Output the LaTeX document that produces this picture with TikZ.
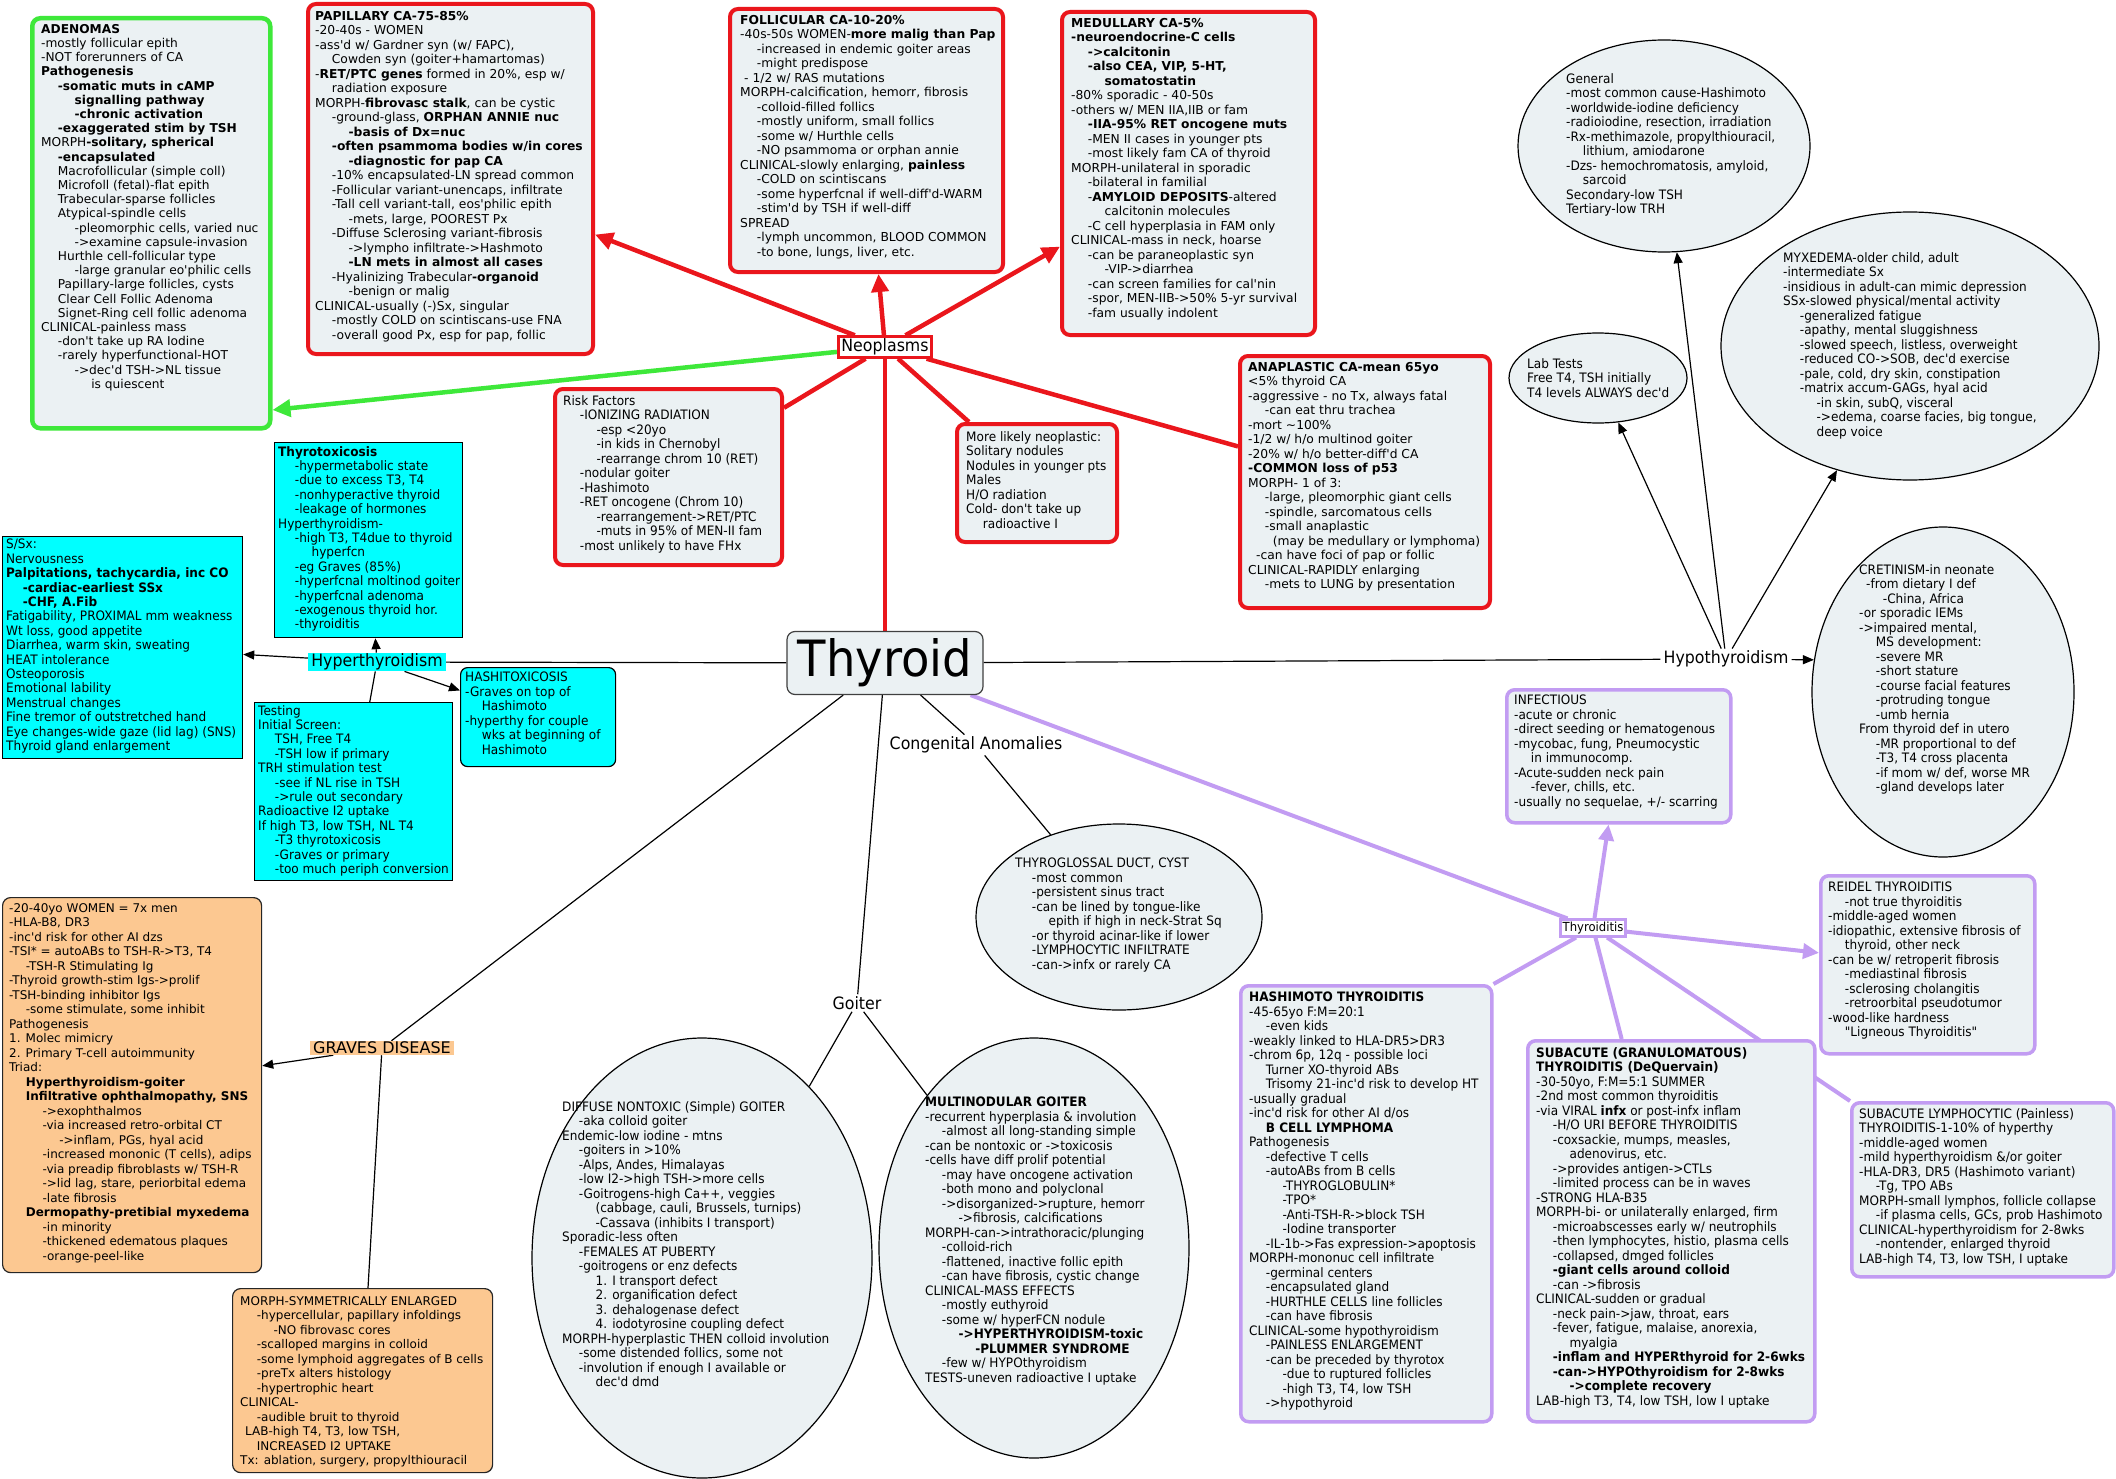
\documentclass[tikz,border=0pt]{standalone}
\usepackage{fontspec}
\usetikzlibrary{arrows.meta,shapes.geometric,backgrounds}
\newfontfamily\vfam{DejaVu Sans}
\newfontfamily\tfam{DejaVu Sans}[FakeStretch=0.93]
\newcommand{\VF}{\vfam\fontsize{12.3}{14.5}\selectfont}
\newcommand{\TF}{\tfam\fontsize{13}{14.5}\selectfont}
\newcommand{\myin}{\hspace*{16.7pt}}
\definecolor{boxfill}{RGB}{235,241,243}
\definecolor{redc}{RGB}{234,22,28}
\definecolor{greenc}{RGB}{62,232,58}
\definecolor{purc}{RGB}{194,156,242}
\definecolor{cyanc}{RGB}{0,255,255}
\definecolor{peach}{RGB}{252,200,145}
\tikzset{
  redbox/.style={draw=redc, line width=4pt, rounded corners=8pt, fill=boxfill, inner sep=0pt, anchor=north west},
  greenbox/.style={draw=greenc, line width=4.5pt, rounded corners=8pt, fill=boxfill, inner sep=0pt, anchor=north west},
  purbox/.style={draw=purc, line width=3.5pt, rounded corners=8pt, fill=boxfill, inner sep=0pt, anchor=north west},
  cyanbox/.style={draw=black, line width=1.2pt, fill=cyanc, inner sep=0pt, anchor=north west},
  peachbox/.style={draw=black!85, line width=1.2pt, rounded corners=8pt, fill=peach, inner sep=0pt, anchor=north west},
  ell/.style={ellipse, draw=black, line width=1.2pt, fill=boxfill, inner sep=0pt},
  vt/.style={font=\VF, align=left, inner sep=0pt, anchor=north west},
  tt/.style={font=\TF, align=left, inner sep=0pt, anchor=north west},
  biglabel/.style={font=\tfam\fontsize{17}{17}\selectfont, inner xsep=3pt, inner ysep=2pt},
  redl/.style={draw=redc, line width=4.5pt},
  redarr/.style={redl, -{Triangle[length=18pt,width=17pt]}},
  greenarr/.style={draw=greenc, line width=4.5pt, -{Triangle[length=18pt,width=17pt]}},
  purl/.style={draw=purc, line width=4pt},
  purarr/.style={purl, -{Triangle[length=16pt,width=15pt]}},
  blk/.style={draw=black, line width=1.2pt},
  blkarr/.style={blk, -{Triangle[length=11pt,width=9pt]}}
}
\begin{document}
\begin{tikzpicture}[x=1pt,y=-1pt]
\useasboundingbox (0,0) rectangle (2116,1479);

% ---------- central and branch labels ----------
\node[draw=black!75, line width=1.2pt, rounded corners=8pt, fill=boxfill, minimum width=196pt, minimum height=63pt, inner sep=0pt, font=\tfam\fontsize{50}{50}\selectfont] (thyroid) at (885,663) {Thyroid};
\node[biglabel, draw=redc, line width=3pt, fill=white] (neo) at (885,347) {Neoplasms};
\node[biglabel, fill=cyanc, inner ysep=1pt] (hyper) at (377,662) {Hyperthyroidism};
\node[biglabel] (hypo) at (1726,659) {Hypothyroidism};
\node[biglabel] (cong) at (976,745) {Congenital Anomalies};
\node[biglabel] (goiter) at (857,1003) {Goiter};
\node[font=\vfam\fontsize{16}{16}\selectfont, fill=peach, inner xsep=3pt, inner ysep=1pt] (graves) at (382,1048) {GRAVES DISEASE};
\node[font=\tfam\fontsize{12.5}{12.5}\selectfont, draw=purc, line width=3pt, fill=white, inner sep=2pt] (thyroiditis) at (1593,928) {Thyroiditis};

% ---------- neoplasm boxes ----------
\node[greenbox, minimum width=238pt, minimum height=410pt] (aden) at (30,16) {};
\node[vt, font=\vfam\fontsize{12.2}{14.2}\selectfont] (adentext) at (41,24) {\textbf{ADENOMAS}\\
-mostly follicular epith\\
-NOT forerunners of CA\\
\textbf{Pathogenesis}\\
\myin\textbf{-somatic muts in cAMP}\\
\myin\myin\textbf{signalling pathway}\\
\myin\myin\textbf{-chronic activation}\\
\myin\textbf{-exaggerated stim by TSH}\\
MORPH\textbf{-solitary, spherical}\\
\myin\textbf{-encapsulated}\\
\myin Macrofollicular (simple coll)\\
\myin Microfoll (fetal)-flat epith\\
\myin Trabecular-sparse follicles\\
\myin Atypical-spindle cells\\
\myin\myin -pleomorphic cells, varied nuc\\
\myin\myin ->examine capsule-invasion\\
\myin Hurthle cell-follicular type\\
\myin\myin -large granular eo'philic cells\\
\myin Papillary-large follicles, cysts\\
\myin Clear Cell Follic Adenoma\\
\myin Signet-Ring cell follic adenoma\\
CLINICAL-painless mass\\
\myin -don't take up RA Iodine\\
\myin -rarely hyperfunctional-HOT\\
\myin\myin ->dec'd TSH->NL tissue\\
\myin\myin\myin is quiescent};

\node[redbox, minimum width=285pt, minimum height=350pt] (pap) at (306,2) {};
\node[vt] (paptext) at (315,11) {\textbf{PAPILLARY CA-75-85\%}\\
-20-40s - WOMEN\\
-ass'd w/ Gardner syn (w/ FAPC),\\
\myin Cowden syn (goiter+hamartomas)\\
-\textbf{RET/PTC genes} formed in 20\%, esp w/\\
\myin radiation exposure\\
MORPH-\textbf{fibrovasc stalk}, can be cystic\\
\myin -ground-glass, \textbf{ORPHAN ANNIE nuc}\\
\myin\myin\textbf{-basis of Dx=nuc}\\
\myin\textbf{-often psammoma bodies w/in cores}\\
\myin\myin\textbf{-diagnostic for pap CA}\\
\myin -10\% encapsulated-LN spread common\\
\myin -Follicular variant-unencaps, infiltrate\\
\myin -Tall cell variant-tall, eos'philic epith\\
\myin\myin -mets, large, POOREST Px\\
\myin -Diffuse Sclerosing variant-fibrosis\\
\myin\myin ->lympho infiltrate->Hashmoto\\
\myin\myin\textbf{-LN mets in almost all cases}\\
\myin -Hyalinizing Trabecular\textbf{-organoid}\\
\myin\myin -benign or malig\\
CLINICAL-usually (-)Sx, singular\\
\myin -mostly COLD on scintiscans-use FNA\\
\myin -overall good Px, esp for pap, follic};

\node[redbox, minimum width=273pt, minimum height=263pt] (fol) at (728,7) {};
\node[vt] (foltext) at (740,15) {\textbf{FOLLICULAR CA-10-20\%}\\
-40s-50s WOMEN-\textbf{more malig than Pap}\\
\myin -increased in endemic goiter areas\\
\myin -might predispose\\
\hspace*{4pt}- 1/2 w/ RAS mutations\\
MORPH-calcification, hemorr, fibrosis\\
\myin -colloid-filled follics\\
\myin -mostly uniform, small follics\\
\myin -some w/ Hurthle cells\\
\myin -NO psammoma or orphan annie\\
CLINICAL-slowly enlarging, \textbf{painless}\\
\myin -COLD on scintiscans\\
\myin -some hyperfcnal if well-diff'd-WARM\\
\myin -stim'd by TSH if well-diff\\
SPREAD\\
\myin -lymph uncommon, BLOOD COMMON\\
\myin -to bone, lungs, liver, etc.};

\node[redbox, minimum width=253pt, minimum height=323pt] (med) at (1060,10) {};
\node[vt] (medtext) at (1071,18) {\textbf{MEDULLARY CA-5\%}\\
\textbf{-neuroendocrine-C cells}\\
\myin\textbf{->calcitonin}\\
\myin\textbf{-also CEA, VIP, 5-HT,}\\
\myin\myin\textbf{somatostatin}\\
-80\% sporadic - 40-50s\\
-others w/ MEN IIA,IIB or fam\\
\myin\textbf{-IIA-95\% RET oncogene muts}\\
\myin -MEN II cases in younger pts\\
\myin -most likely fam CA of thyroid\\
MORPH-unilateral in sporadic\\
\myin -bilateral in familial\\
\myin -\textbf{AMYLOID DEPOSITS}-altered\\
\myin\myin calcitonin molecules\\
\myin -C cell hyperplasia in FAM only\\
CLINICAL-mass in neck, hoarse\\
\myin -can be paraneoplastic syn\\
\myin\myin -VIP->diarrhea\\
\myin -can screen families for cal'nin\\
\myin -spor, MEN-IIB->50\% 5-yr survival\\
\myin -fam usually indolent};

\node[redbox, minimum width=227pt, minimum height=176pt] (risk) at (553,387) {};
\node[tt] (risktext) at (563,395) {Risk Factors\\
\myin -IONIZING RADIATION\\
\myin\myin -esp <20yo\\
\myin\myin -in kids in Chernobyl\\
\myin\myin -rearrange chrom 10 (RET)\\
\myin -nodular goiter\\
\myin -Hashimoto\\
\myin -RET oncogene (Chrom 10)\\
\myin\myin -rearrangement->RET/PTC\\
\myin\myin -muts in 95\% of MEN-II fam\\
\myin -most unlikely to have FHx};

\node[redbox, minimum width=160pt, minimum height=118pt] (likely) at (955,422) {};
\node[tt] (likelytext) at (966,431) {More likely neoplastic:\\
Solitary nodules\\
Nodules in younger pts\\
Males\\
H/O radiation\\
Cold- don't take up\\
\myin radioactive I};

\node[redbox, minimum width=250pt, minimum height=252pt] (ana) at (1238,354) {};
\node[vt] (anatext) at (1248,362) {\textbf{ANAPLASTIC CA-mean 65yo}\\
<5\% thyroid CA\\
-aggressive - no Tx, always fatal\\
\myin -can eat thru trachea\\
-mort \textasciitilde 100\%\\
-1/2 w/ h/o multinod goiter\\
-20\% w/ h/o better-diff'd CA\\
\textbf{-COMMON loss of p53}\\
MORPH- 1 of 3:\\
\myin -large, pleomorphic giant cells\\
\myin -spindle, sarcomatous cells\\
\myin -small anaplastic\\
\myin\hspace*{8pt}(may be medullary or lymphoma)\\
\hspace*{8pt}-can have foci of pap or follic\\
CLINICAL-RAPIDLY enlarging\\
\myin -mets to LUNG by presentation};

% ---------- hyperthyroidism boxes ----------
\node[cyanbox, minimum width=188pt, minimum height=195pt] (toxic) at (274,442) {};
\node[tt, font=\tfam\fontsize{13}{14.4}\selectfont] (toxictext) at (278,446) {\textbf{Thyrotoxicosis}\\
\myin -hypermetabolic state\\
\myin -due to excess T3, T4\\
\myin -nonhyperactive thyroid\\
\myin -leakage of hormones\\
Hyperthyroidism-\\
\myin -high T3, T4due to thyroid\\
\myin\myin hyperfcn\\
\myin -eg Graves (85\%)\\
\myin -hyperfcnal moltinod goiter\\
\myin -hyperfcnal adenoma\\
\myin -exogenous thyroid hor.\\
\myin -thyroiditis};

\node[cyanbox, minimum width=240pt, minimum height=222pt] (ssx) at (2,536) {};
\node[tt, font=\tfam\fontsize{13}{14.4}\selectfont] (ssxtext) at (6,539) {S/Sx:\\
Nervousness\\
\textbf{Palpitations, tachycardia, inc CO}\\
\myin\textbf{-cardiac-earliest SSx}\\
\myin\textbf{-CHF, A.Fib}\\
Fatigability, PROXIMAL mm weakness\\
Wt loss, good appetite\\
Diarrhea, warm skin, sweating\\
HEAT intolerance\\
Osteoporosis\\
Emotional lability\\
Menstrual changes\\
Fine tremor of outstretched hand\\
Eye changes-wide gaze (lid lag) (SNS)\\
Thyroid gland enlargement};

\node[cyanbox, minimum width=198pt, minimum height=178pt] (test) at (254,702) {};
\node[tt, font=\tfam\fontsize{13}{14.4}\selectfont] (testtext) at (258,705) {Testing\\
Initial Screen:\\
\myin TSH, Free T4\\
\myin -TSH low if primary\\
TRH stimulation test\\
\myin -see if NL rise in TSH\\
\myin ->rule out secondary\\
Radioactive I2 uptake\\
If high T3, low TSH, NL T4\\
\myin -T3 thyrotoxicosis\\
\myin -Graves or primary\\
\myin -too much periph conversion};

\node[cyanbox, rounded corners=7pt, minimum width=155pt, minimum height=99pt] (hashitox) at (460,667) {};
\node[tt] (hashitoxtext) at (465,672) {HASHITOXICOSIS\\
-Graves on top of\\
\myin Hashimoto\\
-hyperthy for couple\\
\myin wks at beginning of\\
\myin Hashimoto};

% ---------- Graves boxes ----------
\node[peachbox, minimum width=259pt, minimum height=375pt] (gravesL) at (2,897) {};
\node[vt, font=\vfam\fontsize{12}{14.5}\selectfont] (gravesLtext) at (9,903) {-20-40yo WOMEN = 7x men\\
-HLA-B8, DR3\\
-inc'd risk for other AI dzs\\
-TSI* = autoABs to TSH-R->T3, T4\\
\myin -TSH-R Stimulating Ig\\
-Thyroid growth-stim Igs->prolif\\
-TSH-binding inhibitor Igs\\
\myin -some stimulate, some inhibit\\
Pathogenesis\\
1. Molec mimicry\\
2. Primary T-cell autoimmunity\\
Triad:\\
\myin\textbf{Hyperthyroidism-goiter}\\
\myin\textbf{Infiltrative ophthalmopathy, SNS}\\
\myin\myin ->exophthalmos\\
\myin\myin -via increased retro-orbital CT\\
\myin\myin\myin ->inflam, PGs, hyal acid\\
\myin\myin -increased mononic (T cells), adips\\
\myin\myin -via preadip fibroblasts w/ TSH-R\\
\myin\myin ->lid lag, stare, periorbital edema\\
\myin\myin -late fibrosis\\
\myin\textbf{Dermopathy-pretibial myxedema}\\
\myin\myin -in minority\\
\myin\myin -thickened edematous plaques\\
\myin\myin -orange-peel-like};

\node[peachbox, minimum width=260pt, minimum height=184pt] (gravesM) at (232,1288) {};
\node[vt, font=\vfam\fontsize{12}{14.5}\selectfont] (gravesMtext) at (240,1296) {MORPH-SYMMETRICALLY ENLARGED\\
\myin -hypercellular, papillary infoldings\\
\myin\myin -NO fibrovasc cores\\
\myin -scalloped margins in colloid\\
\myin -some lymphoid aggregates of B cells\\
\myin -preTx alters histology\\
\myin -hypertrophic heart\\
CLINICAL-\\
\myin -audible bruit to thyroid\\
\hspace*{5pt}LAB-high T4, T3, low TSH,\\
\myin INCREASED I2 UPTAKE\\
Tx: ablation, surgery, propylthiouracil};

% ---------- goiter and congenital ellipses ----------
\node[ell, minimum width=340pt, minimum height=440pt] (diffuse) at (702,1258) {};
\node[tt] (diffusetext) at (562,1101) {DIFFUSE NONTOXIC (Simple) GOITER\\
\myin -aka colloid goiter\\
Endemic-low iodine - mtns\\
\myin -goiters in >10\%\\
\myin -Alps, Andes, Himalayas\\
\myin -low I2->high TSH->more cells\\
\myin -Goitrogens-high Ca++, veggies\\
\myin\myin (cabbage, cauli, Brussels, turnips)\\
\myin\myin -Cassava (inhibits I transport)\\
Sporadic-less often\\
\myin -FEMALES AT PUBERTY\\
\myin -goitrogens or enz defects\\
\myin\myin 1. I transport defect\\
\myin\myin 2. organification defect\\
\myin\myin 3. dehalogenase defect\\
\myin\myin 4. iodotyrosine coupling defect\\
MORPH-hyperplastic THEN colloid involution\\
\myin -some distended follics, some not\\
\myin -involution if enough I available or\\
\myin\myin dec'd dmd};

\node[ell, minimum width=310pt, minimum height=420pt] (multi) at (1034,1248) {};
\node[tt] (multitext) at (925,1097) {\textbf{MULTINODULAR GOITER}\\
-recurrent hyperplasia \& involution\\
\myin -almost all long-standing simple\\
-can be nontoxic or ->toxicosis\\
-cells have diff prolif potential\\
\myin -may have oncogene activation\\
\myin -both mono and polyclonal\\
\myin ->disorganized->rupture, hemorr\\
\myin\myin ->fibrosis, calcifications\\
MORPH-can->intrathoracic/plunging\\
\myin -colloid-rich\\
\myin -flattened, inactive follic epith\\
\myin -can have fibrosis, cystic change\\
CLINICAL-MASS EFFECTS\\
\myin -mostly euthyroid\\
\myin -some w/ hyperFCN nodule\\
\myin\myin\textbf{->HYPERTHYROIDISM-toxic}\\
\myin\myin\myin\textbf{-PLUMMER SYNDROME}\\
\myin -few w/ HYPOthyroidism\\
TESTS-uneven radioactive I uptake};

\node[ell, minimum width=286pt, minimum height=186pt] (glossal) at (1119,917) {};
\node[tt] (glossaltext) at (1015,858) {THYROGLOSSAL DUCT, CYST\\
\myin -most common\\
\myin -persistent sinus tract\\
\myin -can be lined by tongue-like\\
\myin\myin epith if high in neck-Strat Sq\\
\myin -or thyroid acinar-like if lower\\
\myin -LYMPHOCYTIC INFILTRATE\\
\myin -can->infx or rarely CA};

% ---------- hypothyroidism ellipses ----------
\node[ell, minimum width=292pt, minimum height=212pt] (general) at (1664,146) {};
\node[tt] (generaltext) at (1566,73) {General\\
-most common cause-Hashimoto\\
-worldwide-iodine deficiency\\
-radioiodine, resection, irradiation\\
-Rx-methimazole, propylthiouracil,\\
\myin lithium, amiodarone\\
-Dzs- hemochromatosis, amyloid,\\
\myin sarcoid\\
Secondary-low TSH\\
Tertiary-low TRH};

\node[ell, minimum width=178pt, minimum height=90pt] (lab) at (1598,378) {};
\node[tt] (labtext) at (1527,358) {Lab Tests\\
Free T4, TSH initially\\
T4 levels ALWAYS dec'd};

\node[ell, minimum width=378pt, minimum height=268pt] (myx) at (1910,346) {};
\node[tt] (myxtext) at (1783,252) {MYXEDEMA-older child, adult\\
-intermediate Sx\\
-insidious in adult-can mimic depression\\
SSx-slowed physical/mental activity\\
\myin -generalized fatigue\\
\myin -apathy, mental sluggishness\\
\myin -slowed speech, listless, overweight\\
\myin -reduced CO->SOB, dec'd exercise\\
\myin -pale, cold, dry skin, constipation\\
\myin -matrix accum-GAGs, hyal acid\\
\myin\myin -in skin, subQ, visceral\\
\myin\myin ->edema, coarse facies, big tongue,\\
\myin\myin deep voice};

\node[ell, minimum width=262pt, minimum height=330pt] (cret) at (1943,692) {};
\node[tt] (crettext) at (1859,564) {CRETINISM-in neonate\\
\hspace*{7pt}-from dietary I def\\
\myin\hspace*{7pt}-China, Africa\\
-or sporadic IEMs\\
->impaired mental,\\
\myin MS development:\\
\myin -severe MR\\
\myin -short stature\\
\myin -course facial features\\
\myin -protruding tongue\\
\myin -umb hernia\\
From thyroid def in utero\\
\myin -MR proportional to def\\
\myin -T3, T4 cross placenta\\
\myin -if mom w/ def, worse MR\\
\myin -gland develops later};

% ---------- thyroiditis boxes ----------
\node[purbox, minimum width=224pt, minimum height=133pt] (infect) at (1505,688) {};
\node[tt] (infecttext) at (1514,695) {INFECTIOUS\\
-acute or chronic\\
-direct seeding or hematogenous\\
-mycobac, fung, Pneumocystic\\
\myin in immunocomp.\\
-Acute-sudden neck pain\\
\myin -fever, chills, etc.\\
-usually no sequelae, +/- scarring};

\node[purbox, minimum width=214pt, minimum height=178pt] (reidel) at (1819,874) {};
\node[tt] (reideltext) at (1828,882) {REIDEL THYROIDITIS\\
\myin -not true thyroiditis\\
-middle-aged women\\
-idiopathic, extensive fibrosis of\\
\myin thyroid, other neck\\
-can be w/ retroperit fibrosis\\
\myin -mediastinal fibrosis\\
\myin -sclerosing cholangitis\\
\myin -retroorbital pseudotumor\\
-wood-like hardness\\
\myin "Ligneous Thyroiditis"};

\node[purbox, minimum width=251pt, minimum height=436pt] (hashi) at (1239,984) {};
\node[tt] (hashitext) at (1249,992) {\textbf{HASHIMOTO THYROIDITIS}\\
-45-65yo F:M=20:1\\
\myin -even kids\\
-weakly linked to HLA-DR5>DR3\\
-chrom 6p, 12q - possible loci\\
\myin Turner XO-thyroid ABs\\
\myin Trisomy 21-inc'd risk to develop HT\\
-usually gradual\\
-inc'd risk for other AI d/os\\
\myin\textbf{B CELL LYMPHOMA}\\
Pathogenesis\\
\myin -defective T cells\\
\myin -autoABs from B cells\\
\myin\myin -THYROGLOBULIN*\\
\myin\myin -TPO*\\
\myin\myin -Anti-TSH-R->block TSH\\
\myin\myin -Iodine transporter\\
\myin -IL-1b->Fas expression->apoptosis\\
MORPH-mononuc cell infiltrate\\
\myin -germinal centers\\
\myin -encapsulated gland\\
\myin -HURTHLE CELLS line follicles\\
\myin -can have fibrosis\\
CLINICAL-some hypothyroidism\\
\myin -PAINLESS ENLARGEMENT\\
\myin -can be preceded by thyrotox\\
\myin\myin -due to ruptured follicles\\
\myin\myin -high T3, T4, low TSH\\
\myin ->hypothyroid};

\node[purbox, minimum width=287pt, minimum height=381pt] (subgran) at (1526,1039) {};
\node[tt] (subgrantext) at (1536,1047) {\textbf{SUBACUTE (GRANULOMATOUS)}\\
\textbf{THYROIDITIS (DeQuervain)}\\
-30-50yo, F:M=5:1 SUMMER\\
-2nd most common thyroiditis\\
-via VIRAL \textbf{infx} or post-infx inflam\\
\myin -H/O URI BEFORE THYROIDITIS\\
\myin -coxsackie, mumps, measles,\\
\myin\myin adenovirus, etc.\\
\myin ->provides antigen->CTLs\\
\myin -limited process can be in waves\\
-STRONG HLA-B35\\
MORPH-bi- or unilaterally enlarged, firm\\
\myin -microabscesses early w/ neutrophils\\
\myin -then lymphocytes, histio, plasma cells\\
\myin -collapsed, dmged follicles\\
\myin\textbf{-giant cells around colloid}\\
\myin -can ->fibrosis\\
CLINICAL-sudden or gradual\\
\myin -neck pain->jaw, throat, ears\\
\myin -fever, fatigue, malaise, anorexia,\\
\myin\myin myalgia\\
\myin\textbf{-inflam and HYPERthyroid for 2-6wks}\\
\myin\textbf{-can->HYPOthyroidism for 2-8wks}\\
\myin\myin\textbf{->complete recovery}\\
LAB-high T3, T4, low TSH, low I uptake};

\node[purbox, minimum width=262pt, minimum height=174pt] (sublym) at (1850,1101) {};
\node[tt] (sublymtext) at (1859,1108) {SUBACUTE LYMPHOCYTIC (Painless)\\
THYROIDITIS-1-10\% of hyperthy\\
-middle-aged women\\
-mild hyperthyroidism \&/or goiter\\
-HLA-DR3, DR5 (Hashimoto variant)\\
\myin -Tg, TPO ABs\\
MORPH-small lymphos, follicle collapse\\
\myin -if plasma cells, GCs, prob Hashimoto\\
CLINICAL-hyperthyroidism for 2-8wks\\
\myin -nontender, enlarged thyroid\\
LAB-high T4, T3, low TSH, I uptake};

% ---------- connectors ----------
\begin{scope}[on background layer]
\fill[white] (0,0) rectangle (2116,1479);
% neoplasms
\draw[redl] (thyroid) -- (neo);
\draw[greenarr] (neo) -- (aden.-57);
\draw[redarr] (neo) -- (pap);
\draw[redarr] (neo) -- (fol);
\draw[redarr] (neo) -- (med);
\draw[redl] (neo) -- (risk);
\draw[redl] (neo) -- (likely);
\draw[redl] (neo) -- (ana);
% hyperthyroidism
\draw[blk] (thyroid) -- (hyper);
\draw[blkarr] (hyper) -- (ssx);
\draw[blkarr] (hyper) -- (toxic);
\draw[blk] (hyper) -- (test);
\draw[blkarr] (hyper) -- (hashitox);
% graves
\draw[blk] (thyroid) -- (graves);
\draw[blkarr] (graves) -- (gravesL);
\draw[blk] (graves) -- (gravesM);
% goiter
\draw[blk] (thyroid) -- (goiter);
\draw[blk] (goiter) -- (diffuse.58);
\draw[blk] (goiter) -- (multi.125);
% congenital
\draw[blk] (thyroid) -- (cong);
\draw[blk] (cong) -- (glossal);
% hypothyroidism
\draw[blk] (thyroid) -- (hypo);
\draw[blkarr] (hypo) -- (general);
\draw[blkarr] (hypo) -- (lab);
\draw[blkarr] (hypo) -- (myx);
\draw[blkarr] (hypo) -- (cret.166);
% thyroiditis
\draw[purl] (thyroid) -- (thyroiditis);
\draw[purarr] (thyroiditis) -- (infect);
\draw[purarr] (thyroiditis) -- (reidel);
\draw[purl] (thyroiditis) -- (hashi.north east);
\draw[purl] (thyroiditis) -- (subgran);
\draw[purl] (thyroiditis) -- (sublym.north west);
\end{scope}
\end{tikzpicture}
\end{document}
